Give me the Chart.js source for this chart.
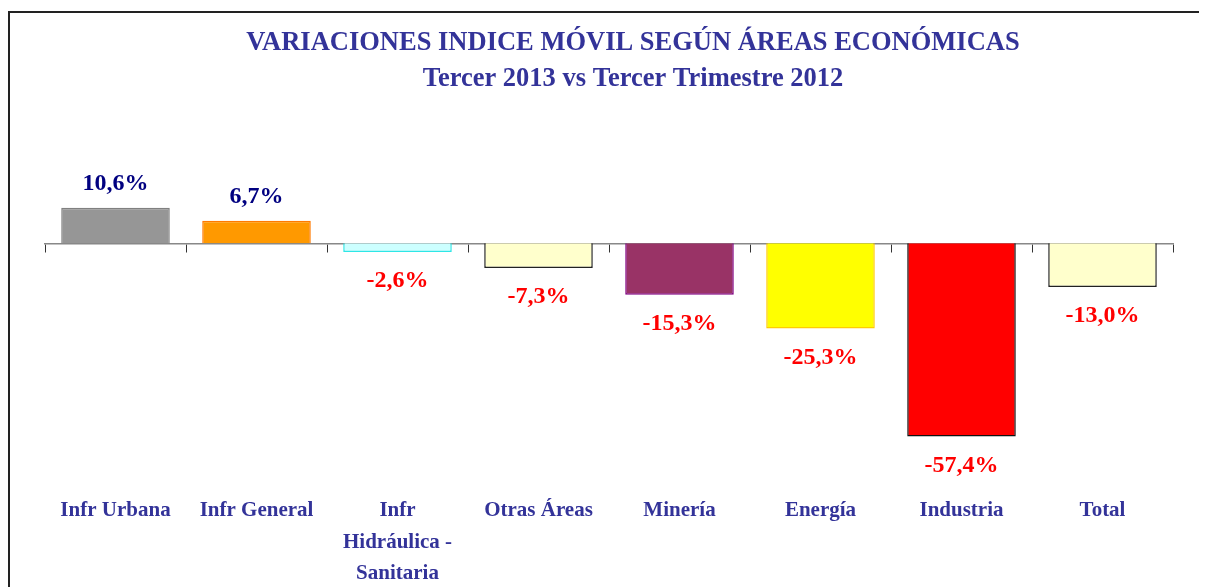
<!DOCTYPE html>
<html>
<head>
<meta charset="utf-8">
<style>
  body { margin: 0; background: #fff; }
</style>
</head>
<body>
<canvas id="myChart" width="1209" height="587"></canvas>

<script src="https://cdn.jsdelivr.net/npm/chart.js"></script>

<script>
// datos
const titulo = ['VARIACIONES INDICE MÓVIL SEGÚN ÁREAS ECONÓMICAS', 'Tercer 2013 vs Tercer Trimestre 2012'];
const categorias = ['Infr Urbana', 'Infr General', ['Infr', 'Hidráulica -', 'Sanitaria'], 'Otras Áreas', 'Minería', 'Energía', 'Industria', 'Total'];
const variaciones = [10.6, 6.7, -2.6, -7.3, -15.3, -25.3, -57.4, -13.0];
const colores = ['#969696', '#FF9900', '#CCFFFF', '#FFFFCC', '#993366', '#FFFF00', '#FF0000', '#FFFFCC'];
const bordes = ['#808080', '#FF7A00', '#2EE6E6', '#222222', '#800080', '#FFCC00', '#111111', '#222222'];

const serif = '"Liberation Serif", "Times New Roman", serif';

// marco del gráfico (solo lados superior e izquierdo visibles) + título
const marco = {
  id: 'marco',
  beforeDraw(chart) {
    const c = chart.ctx;
    c.save();
    c.strokeStyle = '#222';
    c.lineWidth = 2;
    c.beginPath();
    c.moveTo(9, chart.height);
    c.lineTo(9, 12);
    c.lineTo(1199, 12);
    c.stroke();

    // título centrado como en el original (algo a la derecha del área)
    c.fillStyle = '#333399';
    c.font = 'bold 26.5px ' + serif;
    c.textAlign = 'center';
    c.textBaseline = 'middle';
    c.fillText(titulo[0], 633, 43);
    c.fillText(titulo[1], 633, 79);
    c.restore();
  }
};

// etiquetas de valor
const etiquetas = {
  id: 'etiquetas',
  afterDatasetsDraw(chart) {
    const c = chart.ctx;
    const meta = chart.getDatasetMeta(0);
    c.save();
    c.font = 'bold 24px ' + serif;
    c.textAlign = 'center';
    c.textBaseline = 'middle';
    meta.data.forEach((bar, i) => {
      const v = variaciones[i];
      const txt = v.toFixed(1).replace('.', ',') + '%';
      if (v >= 0) {
        c.fillStyle = '#000080';
        c.fillText(txt, bar.x, bar.y - 24);
      } else {
        c.fillStyle = '#FF0000';
        c.fillText(txt, bar.x, bar.y + 29);
      }
    });
    c.restore();
  }
};

const ctx = document.getElementById('myChart').getContext('2d');

new Chart(ctx, {
  type: 'bar',
  data: {
    labels: categorias,
    datasets: [{
      data: variaciones,
      backgroundColor: colores,
      borderColor: bordes,
      borderWidth: 1.5,
      categoryPercentage: 1,
      barPercentage: 0.77
    }]
  },
  options: {
    responsive: false,
    animation: false,
    layout: { padding: { left: 45, right: 36, top: 176, bottom: 0 } },
    plugins: {
      legend: { display: false },
      tooltip: { enabled: false },
      title: { display: false }
    },
    scales: {
      y: {
        display: false,
        min: -70,
        max: 20
      },
      x: {
        position: 'bottom',
        grid: { display: false, drawTicks: false },
        border: { display: false },
        afterFit: (s) => { s.height = 108; },
        ticks: {
          color: '#333399',
          padding: 16,
          maxRotation: 0,
          autoSkip: false,
          font: { family: serif, size: 21, weight: 'bold', lineHeight: 1.5 }
        }
      },
      x2: {
        type: 'category',
        labels: categorias,
        position: { y: 0 },
        offset: true,
        afterFit: (s) => { s.height = 0; },
        grid: { offset: true, drawOnChartArea: false, drawTicks: true, tickLength: 8, color: '#333' },
        border: { display: true, color: '#888', width: 1.5 },
        ticks: { display: false }
      }
    }
  },
  plugins: [marco, etiquetas]
});
</script>
</body>
</html>
